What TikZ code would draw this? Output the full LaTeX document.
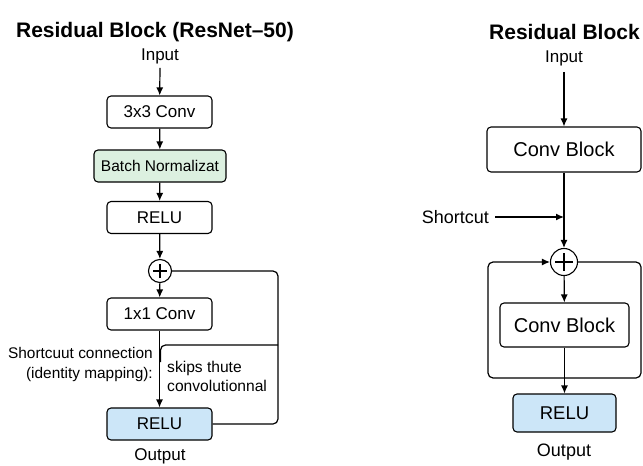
\documentclass[tikz,border=0pt]{standalone}
\usepackage{fontspec}
\setmainfont{Liberation Sans}
\usepackage{tikz}
\usetikzlibrary{arrows.meta}
\definecolor{bngreen}{RGB}{220,240,224}
\definecolor{relublue}{RGB}{204,230,248}

\tikzset{
	blk/.style={draw,line width=1.1pt,rounded corners=4pt,inner sep=0pt,fill=white,font=\fontsize{17}{20}\selectfont},
	lbl/.style={inner sep=0pt,font=\fontsize{17}{20}\selectfont},
	ttl/.style={inner sep=0pt,font=\fontsize{21}{24}\selectfont\bfseries},
	addop/.style={draw,circle,line width=1.1pt,inner sep=0pt,fill=white},
	flow/.style={line width=1.2pt,-{Latex[length=8pt,width=7pt]}},
	wire/.style={line width=1.2pt}
}

\begin{document}
\begin{tikzpicture}[x=1pt,y=-1pt]
	\useasboundingbox (0,0) rectangle (643,466);
	% left: ResNet-50 block
	\node[ttl] (ttlA) at (155,32) {Residual Block (ResNet–50)};
	\node[lbl] (inA) at (160,56) {Input};
	\node[blk,minimum width=105pt,minimum height=32pt] (convA) at (159.5,112) {3x3 Conv};
	\node[blk,fill=bngreen,minimum width=132pt,minimum height=32pt,font=\fontsize{15.5}{18}\selectfont] (bnA) at (160,166) {Batch Normalizat};
	\node[blk,minimum width=105pt,minimum height=32pt] (reluA) at (159.5,217.5) {RELU};
	\node[addop,minimum size=23pt] (plusA) at (160,271) {};
	\draw[wire] ([xshift=-7pt]plusA.center) -- ([xshift=7pt]plusA.center);
	\draw[wire] ([yshift=-7pt]plusA.center) -- ([yshift=7pt]plusA.center);
	\node[blk,minimum width=105pt,minimum height=32pt] (convB) at (159.5,314) {1x1 Conv};
	\node[blk,fill=relublue,minimum width=105pt,minimum height=32pt] (reluB) at (159.5,424) {RELU};
	\node[lbl] (outA) at (160,456) {Output};
	\draw[flow] ([yshift=-4pt]inA.south) -- (convA);
	\draw[flow] (convA) -- (bnA);
	\draw[flow] (bnA) -- (reluA);
	\draw[flow] (reluA) -- (plusA);
	\draw[flow] (plusA) -- (convB);
	\draw[flow] (convB) -- (reluB);
	\coordinate (loopA) at (278,424);
	\coordinate (skipA) at (160.5,362);
	\coordinate (skipB) at (278,345);
	\draw[wire,rounded corners=5pt] (plusA.east) -| (loopA) -- (reluB.east);
	\draw[wire,rounded corners=5pt] (skipA) |- (skipB);
	\node[lbl,anchor=east,align=right,font=\fontsize{15.4}{20}\selectfont] (noteA) at (153,365) {Shortcuut connection\\(identity mapping):};
	\node[lbl,anchor=west,align=left,font=\fontsize{15.6}{19}\selectfont] (noteB) at (167,376) {skips thute\\convolutionnal};
	% right: generic block
	\node[ttl] (ttlB) at (564.5,32) {Residual Block};
	\node[lbl] (inB) at (564,58) {Input};
	\node[blk,minimum width=154pt,minimum height=45pt,font=\fontsize{20}{24}\selectfont] (convC) at (564,149.5) {Conv Block};
	\node[lbl,anchor=east,font=\fontsize{18}{21}\selectfont] (scB) at (489,217) {Shortcut};
	\node[addop,minimum size=27pt] (plusB) at (564,262) {};
	\draw[wire] ([xshift=-9pt]plusB.center) -- ([xshift=9pt]plusB.center);
	\draw[wire] ([yshift=-9pt]plusB.center) -- ([yshift=9pt]plusB.center);
	\node[blk,minimum width=129pt,minimum height=44pt,font=\fontsize{20}{24}\selectfont] (convD) at (564.5,325) {Conv Block};
	\node[blk,fill=relublue,minimum width=103pt,minimum height=38pt,font=\fontsize{18.5}{22}\selectfont] (reluC) at (564.5,413) {RELU};
	\node[lbl,font=\fontsize{18}{21}\selectfont] (outB) at (564,452) {Output};
	\coordinate (scEnd) at (564,217);
	\coordinate (boxBR) at (641,378);
	\coordinate (boxTL) at (488,262);
	\draw[flow] ([yshift=-6pt]inB.south) -- (convC);
	\draw[flow] (convC) -- (plusB);
	\draw[flow] ([xshift=6pt]scB.east) -- (scEnd);
	\draw[flow] (plusB) -- (convD);
	\draw[flow] (convD) -- (reluC);
	\draw[flow,rounded corners=5pt] (plusB.east) -| (boxBR) -| (boxTL) -- (plusB.west);
\end{tikzpicture}
\end{document}
